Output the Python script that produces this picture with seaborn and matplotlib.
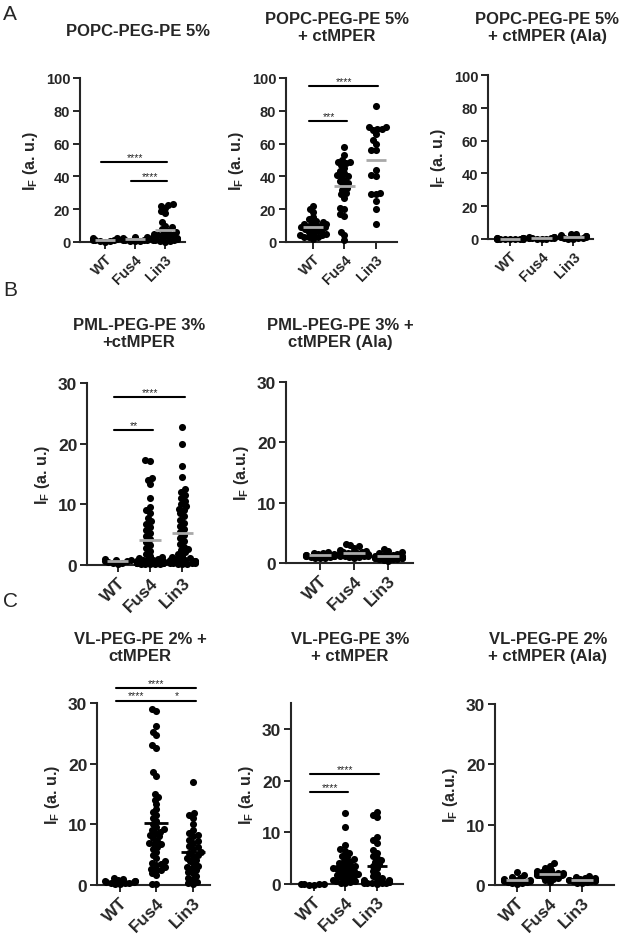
import warnings
import numpy as np
import pandas as pd
import matplotlib
matplotlib.use("Agg")
import matplotlib.pyplot as plt
import seaborn as sns

warnings.filterwarnings("ignore")

groups = ["WT", "Fus4", "Lin3"]

# A: POPC-PEG-PE 5%
a1_wt = [0.5, 0.8, 1.0, 1.2, 1.5, 1.8, 2.2, 0.3, 2.5]
a1_fus4 = [0.4, 0.8, 1.0, 1.3, 1.5, 1.8, 2.0, 2.4, 2.8, 3.2, 1.1, 0.6]
a1_lin3 = [23, 22.5, 22, 20.5, 19, 17.5, 12, 10, 9, 8, 7, 6, 5.5, 5, 4.5, 4, 3.5, 3,
           2.8, 2.5, 2.2, 2, 1.8, 1.5, 1.2, 1, 0.8, 0.5, 0.3]
# A: POPC-PEG-PE 5% + ctMPER
a2_wt = [22, 20, 18, 15, 14, 13, 12, 12, 11, 11, 10, 10, 10, 9, 9, 8, 8, 7, 7, 6, 5, 5,
         4, 4, 3, 3, 3, 2]
a2_fus4 = [58, 53, 50, 49, 49, 48, 47, 45, 43, 42, 41, 40, 40, 38, 37, 36, 35, 33, 32, 30,
           29, 27, 21, 20, 17, 16, 6, 4, 1]
a2_lin3 = [83, 70, 70, 69, 69, 68, 66, 62, 60, 56, 56, 44, 41, 40, 30, 29, 29, 25, 20, 11]
# A: POPC-PEG-PE 5% + ctMPER (Ala)
a3_wt = [0.0, 0.1, 0.2, 0.2, 0.3, 0.3, 0.4, 0.4, 0.5, 0.5, 0.6, 0.1, 0.0, 0.2]
a3_fus4 = [0.1, 0.3, 0.5, 0.6, 0.8, 1.0, 1.2, 1.4, 0.4, 0.7, 0.2]
a3_lin3 = [0.2, 0.5, 0.8, 1.0, 1.3, 1.6, 2.0, 2.4, 2.8, 3.2, 1.1, 0.6, 1.8, 0.3]

# B: PML-PEG-PE 3% + ctMPER
b1_wt = [0.2, 0.4, 0.5, 0.6, 0.8, 0.9, 1.0, 0.7, 0.3]
b1_fus4 = [17.3, 17.2, 14.4, 14.0, 13.3, 11.0, 9.5, 9.0, 8.5, 7.8, 7.2, 6.8, 6.3, 5.8, 5.3,
           4.8, 4.3, 3.8, 3.3, 2.8, 2.3, 1.8, 1.5, 1.3, 1.1, 1.0, 0.9, 0.8, 0.7, 0.6, 0.5,
           0.5, 0.4, 0.4, 0.3, 0.3, 0.2, 0.2, 0.1, 0.1, 0.6, 0.8, 0.5, 0.3, 0.2, 0.4, 0.6]
b1_lin3 = [22.8, 20.0, 16.3, 14.5, 12.5, 12.0, 11.5, 11.0, 10.5, 10.0, 9.7, 9.3, 9.0, 8.5,
           8.0, 7.5, 7.0, 6.5, 6.0, 5.5, 5.0, 4.5, 4.0, 3.5, 3.0, 2.7, 2.4, 2.1, 1.8, 1.5,
           1.3, 1.1, 0.9, 0.8, 0.7, 0.6, 0.5, 0.4, 0.3, 0.2, 0.1, 0.5, 0.8, 1.0, 0.3, 0.6,
           0.2, 0.4, 0.7]
# B: PML-PEG-PE 3% + ctMPER (Ala)
b2_wt = [0.8, 0.9, 1.0, 1.1, 1.2, 1.2, 1.3, 1.4, 1.5, 1.6, 1.7, 1.8, 1.0, 1.3, 1.1, 0.9, 1.5]
b2_fus4 = [0.9, 1.0, 1.1, 1.2, 1.3, 1.3, 1.4, 1.4, 1.5, 1.5, 1.6, 1.7, 1.8, 1.9, 2.0, 2.2,
           2.5, 2.8, 3.0, 3.2, 1.2, 1.4, 1.6, 1.1, 1.0, 1.3, 1.7]
b2_lin3 = [0.3, 0.5, 0.6, 0.7, 0.8, 0.9, 1.0, 1.0, 1.1, 1.2, 1.3, 1.4, 1.5, 1.6, 1.8, 2.0,
           2.3, 0.8, 0.6, 1.1, 0.9]

# C: VL-PEG-PE 2% + ctMPER
c1_wt = [0.1, 0.2, 0.3, 0.4, 0.5, 0.6, 0.7, 0.8, 1.0, 1.2, 0.5, 0.3, 0.6]
c1_fus4 = [29.0, 28.6, 26.2, 25.3, 24.8, 23.0, 22.6, 18.6, 18.0, 15.0, 14.5, 14.0, 13.3,
           12.5, 12.0, 11.5, 11.0, 10.5, 10.0, 9.5, 9.0, 8.8, 8.5, 8.0, 7.7, 7.3, 7.0, 6.7,
           6.3, 6.0, 5.5, 5.0, 4.5, 4.0, 3.6, 3.3, 3.0, 2.7, 2.4, 2.0, 1.6, 0.2, 0.1, 8.2,
           3.5, 2.5, 9.2, 6.8]
c1_lin3 = [17.0, 11.8, 11.5, 11.0, 10.0, 9.0, 8.5, 8.2, 8.0, 7.5, 7.2, 7.0, 6.5, 6.2, 6.0,
           5.5, 5.2, 5.0, 4.5, 4.2, 4.0, 3.5, 3.2, 3.0, 2.5, 2.2, 2.0, 1.5, 1.2, 1.0, 0.5,
           0.3, 0.2, 4.8, 2.8]
# C: VL-PEG-PE 3% + ctMPER
c2_wt = [-0.1, -0.1, 0.0, 0.0, -0.05, 0.0]
c2_fus4 = [13.8, 11.0, 7.5, 6.7, 6.4, 6.0, 5.5, 5.2, 4.8, 4.5, 4.2, 4.0, 3.7, 3.5, 3.2, 3.0,
           2.8, 2.6, 2.4, 2.2, 2.0, 1.8, 1.6, 1.4, 1.2, 1.0, 0.8, 0.6, 0.5, 0.3, 0.2, 0.1,
           3.3, 2.9, 1.9]
c2_lin3 = [14.0, 13.4, 13.0, 9.0, 8.5, 8.0, 6.5, 6.0, 5.5, 5.0, 4.6, 4.2, 3.8, 3.4, 3.0,
           2.5, 2.0, 1.5, 1.0, 0.8, 0.5, 0.3, 0.2, 0.1, 0.0, 0.6, 1.2, 0.2, 0.4, 0.1, 0.3,
           0.5, 0.7, 0.2, 0.3]
# C: VL-PEG-PE 2% + ctMPER (Ala)
c3_wt = [0.2, 0.3, 0.4, 0.5, 0.6, 0.7, 0.8, 0.9, 1.0, 1.2, 1.4, 1.6, 2.2, 0.5, 0.8]
c3_fus4 = [0.5, 0.8, 1.0, 1.2, 1.4, 1.5, 1.6, 1.7, 1.8, 1.9, 2.0, 2.1, 2.2, 2.3, 2.5, 2.8,
           3.2, 3.6, 1.8, 2.0, 1.6, 2.2]
c3_lin3 = [0.3, 0.4, 0.5, 0.6, 0.7, 0.8, 0.9, 1.0, 1.1, 1.2, 1.4, 1.5, 0.7, 0.9]

sns.set_style("ticks")
plt.rcParams["font.family"] = ["Liberation Sans", "DejaVu Sans"]
plt.rcParams["font.weight"] = "bold"
plt.rcParams["mathtext.fontset"] = "custom"
plt.rcParams["mathtext.rm"] = "Liberation Sans:bold"
plt.rcParams["mathtext.it"] = "Liberation Sans:bold"
plt.rcParams["mathtext.bf"] = "Liberation Sans:bold"

W, H = 621, 937
fig = plt.figure(figsize=(W / 100, H / 100), dpi=100)
GREY = "#a9a9a9"
swarms = []


def panel(rect, wt, fus4, lin3, ylim, yticks, xlim, ylabel, fs,
          mean_color=GREY, mean_z=4, bars=()):
    x0, y0, x1, y1 = rect
    ax = fig.add_axes([x0 / W, 1 - y1 / H, (x1 - x0) / W, (y1 - y0) / H])
    df = pd.DataFrame({
        "group": ["WT"] * len(wt) + ["Fus4"] * len(fus4) + ["Lin3"] * len(lin3),
        "value": wt + fus4 + lin3,
    })
    # lay the swarm out with small dots, then draw the dots bigger so they overlap
    sns.swarmplot(data=df, x="group", y="value", order=groups, color="black",
                  size=3.3, ax=ax, zorder=3)
    for c in ax.collections:
        c.set_clip_on(False)
        swarms.append(c)
    means = df.groupby("group")["value"].mean().reindex(groups)
    pos = np.arange(len(groups))
    ax.hlines(means.values, pos - 0.33, pos + 0.33, color=mean_color, lw=2,
              zorder=mean_z, clip_on=False)
    ax.set_ylim(*ylim)
    ax.set_yticks(yticks)
    ax.set_xlim(*xlim)
    ax.set_xlabel("")
    ax.set_ylabel(ylabel, fontsize=11.5, fontweight="bold", labelpad=4)
    ax.tick_params(axis="both", length=5, width=1.4, labelsize=fs, pad=2)
    plt.setp(ax.get_yticklabels(), fontweight="bold")
    plt.setp(ax.get_xticklabels(), rotation=45, ha="right", rotation_mode="anchor",
             fontweight="bold")
    sns.despine(ax=ax)
    for s in ["left", "bottom"]:
        ax.spines[s].set_linewidth(1.5)
    for a, b, y, lab in bars:
        ax.plot([a - 0.12, b + 0.08], [y, y], color="black", lw=1.5, clip_on=False)
        ax.text((a + b) / 2, y, lab, ha="center", va="bottom", fontsize=7.5,
                fontweight="normal")
    return ax


lab = r"$\mathrm{I_F}$ (a. u.)"
lab2 = r"$\mathrm{I_F}$ (a.u.)"

# Row A
panel((80, 79, 185, 243), a1_wt, a1_fus4, a1_lin3, (0, 100), [0, 20, 40, 60, 80, 100],
      (-0.83, 2.67), lab, 10.5, bars=[(0, 2, 48.5, "****"), (1, 2, 37, "****")])
panel((286, 79, 397, 243), a2_wt, a2_fus4, a2_lin3, (0, 100), [0, 20, 40, 60, 80, 100],
      (-0.86, 2.67), lab, 10.5, bars=[(0, 2, 95, "****"), (0, 1, 74, "***")])
panel((488, 76, 593, 240), a3_wt, a3_fus4, a3_lin3, (0, 100), [0, 20, 40, 60, 80, 100],
      (-0.7, 2.63), lab, 10.5)

# Row B
panel((87, 384, 197, 566), b1_wt, b1_fus4, b1_lin3, (0, 30), [0, 10, 20, 30],
      (-0.95, 2.45), lab, 12.5, bars=[(0, 2, 27.7, "****"), (0, 1, 22.2, "**")])
panel((286, 383, 413, 564), b2_wt, b2_fus4, b2_lin3, (0, 30), [0, 10, 20, 30],
      (-1.0, 2.73), lab2, 12.5)

# Row C
panel((97, 704, 210, 886), c1_wt, c1_fus4, c1_lin3, (0, 30), [0, 10, 20, 30],
      (-0.63, 2.47), lab, 12.5, mean_color="black", mean_z=1,
      bars=[(0, 2, 32.5, "****"), (0, 0.9, 30.4, "****"), (1.1, 2, 30.4, "*")])
panel((291, 704, 403, 885), c2_wt, c2_fus4, c2_lin3, (0, 35), [0, 10, 20, 30],
      (-0.73, 2.83), lab, 12.5, mean_color="black",
      bars=[(0, 2, 21.3, "****"), (0, 1, 17.8, "****")])
panel((495, 705, 614, 886), c3_wt, c3_fus4, c3_lin3, (0, 30), [0, 10, 20, 30],
      (-0.68, 2.98), lab2, 12.5)

# Titles
titles = [
    ("POPC-PEG-PE 5%", 138, 32),
    ("POPC-PEG-PE 5%\n+ ctMPER", 337, 28),
    ("POPC-PEG-PE 5%\n+ ctMPER (Ala)", 547, 28),
    ("PML-PEG-PE 3%\n+ctMPER", 139, 334),
    ("PML-PEG-PE 3% +\nctMPER (Ala)", 340, 334),
    ("VL-PEG-PE 2% +\nctMPER", 140, 648),
    ("VL-PEG-PE 3%\n+ ctMPER", 350, 648),
    ("VL-PEG-PE 2%\n+ ctMPER (Ala)", 548, 648),
]
for t, x, y in titles:
    fig.text(x / W, 1 - y / H, t, ha="center", va="center", fontsize=12,
             fontweight="bold", linespacing=1.2)

for letter, x, y in [("A", 10, 15), ("B", 10, 291), ("C", 11, 602)]:
    fig.text(x / W, 1 - y / H, letter, ha="center", va="center", fontsize=15,
             fontweight="normal")

# fix the swarm layout, then enlarge the dots
fig.canvas.draw()
for c in swarms:
    if "draw" in c.__dict__:
        del c.draw
    c.set_sizes([26])

fig.savefig("out.png", dpi=100)
